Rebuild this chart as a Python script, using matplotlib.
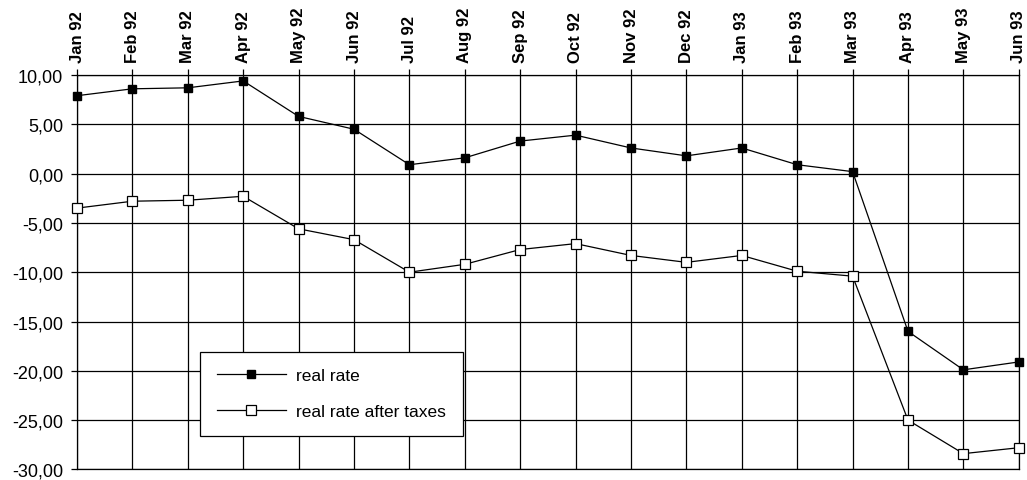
import matplotlib
matplotlib.use('Agg')
import matplotlib.pyplot as plt
import matplotlib.ticker as ticker

months = ['Jan 92', 'Feb 92', 'Mar 92', 'Apr 92', 'May 92', 'Jun 92', 'Jul 92', 'Aug 92', 'Sep 92',
          'Oct 92', 'Nov 92', 'Dec 92', 'Jan 93', 'Feb 93', 'Mar 93', 'Apr 93', 'May 93', 'Jun 93']
real_rate = [7.9, 8.6, 8.7, 9.4, 5.8, 4.5, 0.9, 1.6, 3.3,
             3.9, 2.6, 1.8, 2.6, 0.9, 0.2, -16.0, -19.9, -19.1]
real_rate_after_taxes = [-3.5, -2.8, -2.7, -2.3, -5.6, -6.7, -10.0, -9.2, -7.7,
                         -7.1, -8.3, -9.0, -8.3, -9.9, -10.4, -25.0, -28.4, -27.8]
y_ticks = [10, 5, 0, -5, -10, -15, -20, -25, -30]


def comma_fmt(v, pos):
    return ('%.2f' % v).replace('.', ',')


plt.rcParams['font.family'] = ['Liberation Sans', 'DejaVu Sans']

fig = plt.figure(figsize=(10.27, 4.81), dpi=100)
# bottom raised a touch so the -30,00 label is not cut off
ax = fig.add_axes([0.075, 0.022, 0.917, 0.820])

x = list(range(len(months)))
ax.plot(x, real_rate, color='black', lw=0.9, marker='s', ms=5.5,
        mfc='black', mec='black', label='real rate', clip_on=False, zorder=3)
ax.plot(x, real_rate_after_taxes, color='black', lw=0.9, marker='s', ms=6.5,
        mfc='white', mec='black', mew=0.9, label='real rate after taxes',
        clip_on=False, zorder=3)

ax.set_xlim(0, len(months) - 1)
ax.set_ylim(-30, 10)
ax.set_xticks(x)
ax.set_xticklabels(months, rotation=90, fontsize=12, fontweight='bold')
ax.set_yticks(y_ticks)
ax.yaxis.set_major_formatter(ticker.FuncFormatter(comma_fmt))
ax.tick_params(axis='x', top=True, bottom=False, labeltop=True, labelbottom=False,
               direction='out', length=4, width=0.9, pad=5)
ax.tick_params(axis='y', direction='out', length=4, width=0.9, labelsize=13, pad=6)
ax.grid(True, color='black', lw=0.9)
for s in ax.spines.values():
    s.set_linewidth(0.9)
    s.set_color('black')

leg = ax.legend(loc='lower left', bbox_to_anchor=(0.1306, 0.085), borderaxespad=0,
                fontsize=12.5, frameon=True, fancybox=False, edgecolor='black',
                framealpha=1, handlelength=4.0, handletextpad=0.6,
                labelspacing=1.2, borderpad=0.95)
leg.get_frame().set_linewidth(0.9)

plt.savefig('out.png', dpi=100)
